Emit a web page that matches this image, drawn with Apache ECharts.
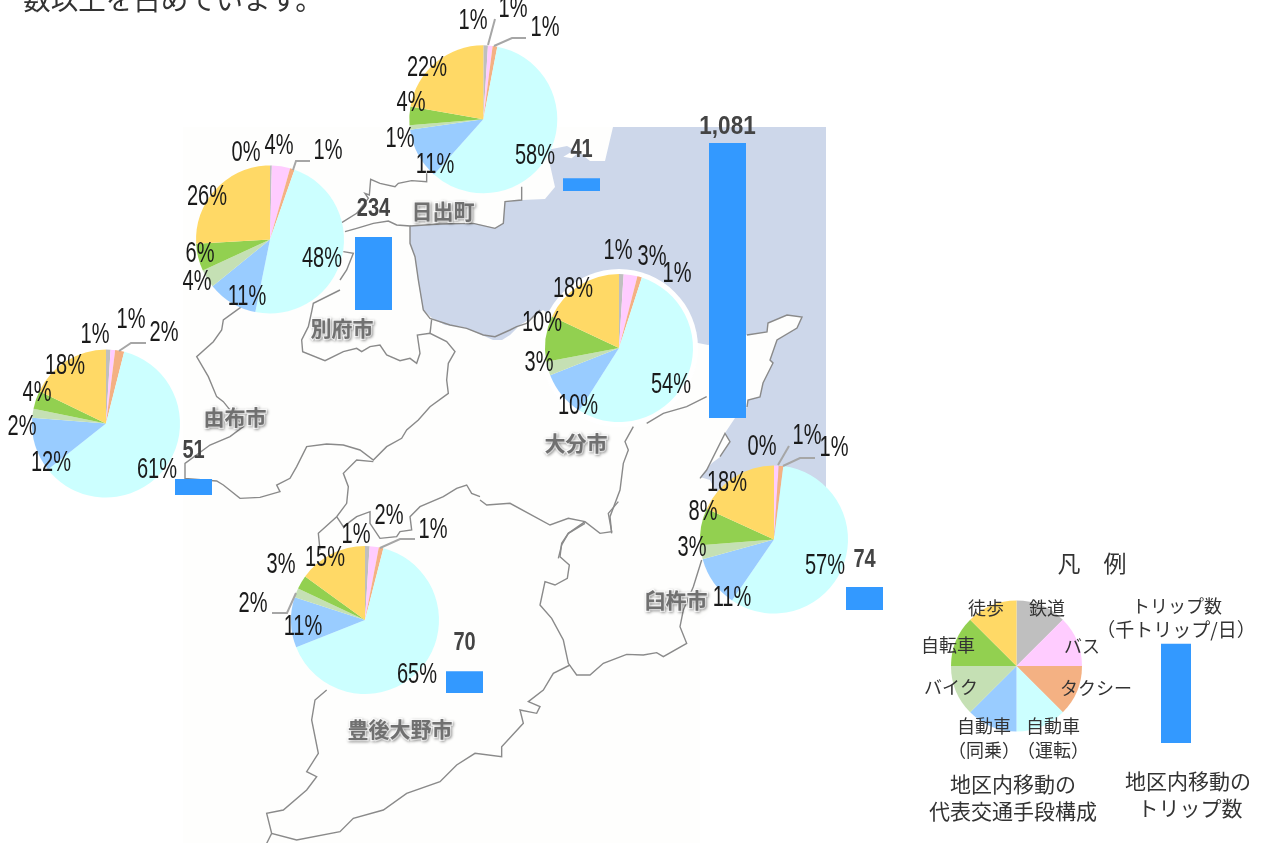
<!DOCTYPE html>
<html><head><meta charset="utf-8">
<style>html,body{margin:0;padding:0;background:#fff}#c{width:1268px;height:843px}</style>
<script src="https://cdn.jsdelivr.net/npm/echarts@6/dist/echarts.min.js"></script>
</head><body><div id="c"></div>
<script>
// ---------- data ----------
const modes = ['鉄道','バス','タクシー','自動車\n（運転）','自動車\n（同乗）','バイク','自転車','徒歩'];
const legendShare = [1,1,1,1,1,1,1,1];
const hiji    = [1,1,1,58,11,1,4,22];
const beppu   = [0.4,4,1,48,11,4,6,26];
const yufu    = [1,1,2,61,12,2,4,18];
const oita    = [1,3,1,54,10,3,10,18];
const usuki   = [0,1,1,57,11,3,8,18];
const bungo   = [1,2,1,65,11,2,3,15];
const tripCities = ['別府市','日出町','大分市','由布市','豊後大野市','臼杵市'];
const tripValues = [234,41,1081,51,70,74];
const legendTrip = [318];

// ---------- styling / layout ----------
const colors = ['#bfbfbf','#ffccff','#f4b183','#ccffff','#99ccff','#c5e0b4','#92d050','#ffd966'];
const NUM = '"Liberation Sans",sans-serif';
const CJK = '"Noto Sans CJK JP",sans-serif';
const pies = [
 {d:hiji, c:[483.3,119.3], pos:[[473,21],[513,9],[545,28],[535,156],[435,165],[400,139],[411,103],[427,68]],
  lines:[[[488,45],[495,19]],[[494,46],[512,38],[526,38]]]},
 {d:beppu,c:[270,239.5], pos:[[246,153],[279,146],[328,151],[322,259],[247,297],[197,282],[200,254],[207,197]],
  lines:[[[293,170],[296,161],[310,161]]]},
 {d:yufu, c:[106,423.5], pos:[[95,335],[131,320],[164,333],[157,470],[51,463],[22,427],[37,393],[65,366]],
  lines:[[[119,351],[131,343],[146,343]]]},
 {d:oita, c:[619,348], pos:[[618,251],[652,257],[677,274],[671,385],[578,406],[539,363],[542,323],[573,289]], lines:[]},
 {d:usuki,c:[774,539.5], pos:[[762,447],[807,436],[834,448],[825,566],[732,598],[692,548],[703,512],[727,483]],
  lines:[[[778,465],[789,446]],[[783,466],[800,458],[815,458]]]},
 {d:bungo,c:[365,620], pos:[[356,535],[389,516],[433,530],[417,675],[303,627],[253,604],[281,565],[325,558]],
  lines:[[[380,548],[400,539],[415,539]],[[296,593],[287,613],[272,613]]]}
];
const legendPos = [[1047,608],[1082,646],[1096,688],[1053,738],[984,738],[951,687],[948,645],[986,608]];
const barLayout = [
 {x:355,base:310,k:.312,ty:209.5},{x:563,base:191,k:.312,ty:150},{x:709,base:418,k:.2544,ty:127},
 {x:175,base:495,k:.312,ty:451},{x:446,base:693,k:.312,ty:643},{x:846,base:610,k:.312,ty:560}
];

// ---------- series ----------
const series = [], grid = [], xAxis = [], yAxis = [];
pies.forEach(p => {
  series.push({
    type:'pie', center:p.c, radius:[0,74], startAngle:90, clockwise:true, z:3, animation:false,
    avoidLabelOverlap:false, silent:true,
    label:{show:false}, labelLine:{show:false},
    data:p.d.map((v,i)=>({value:v,name:modes[i],itemStyle:{color:colors[i]}}))
  });
});
series.push({
  type:'pie', center:[1016.5,666], radius:[0,65.5], startAngle:90, z:3, animation:false, silent:true,
  avoidLabelOverlap:false,
  label:{show:true,formatter:'{b}',fontFamily:CJK,fontSize:18,color:'#333',lineHeight:24},
  labelLine:{show:false},
  labelLayout:o=>{const q=legendPos[o.dataIndex];return {x:q[0],y:q[1],align:'center',verticalAlign:'middle'};},
  data:legendShare.map((v,i)=>({value:v,name:modes[i],itemStyle:{color:colors[i]}}))
});
function addBar(name,val,x,w,base,k){
  const H=Math.ceil(val*k), i=grid.length;
  grid.push({left:x,width:w,top:base-H,height:H,containLabel:false});
  xAxis.push({type:'category',gridIndex:i,show:false,data:[name]});
  yAxis.push({type:'value',gridIndex:i,show:false,min:0,max:H/k});
  series.push({type:'bar',xAxisIndex:i,yAxisIndex:i,barWidth:'100%',z:4,animation:false,silent:true,
    itemStyle:{color:'#3399ff'},label:{show:false},data:[val]});
}
tripValues.forEach((v,i)=>{const b=barLayout[i];addBar(tripCities[i],v,b.x,37,b.base,b.k);});
addBar('凡例',legendTrip[0],1161,30,743,.312);

// ---------- base map and texts ----------
const z=(ox,oy,a)=>{const r=[];for(let i=0;i<a.length;i+=2)r.push([ox+a[i]/3,oy+a[i+1]/3]);return r;};
const LAND='#fefefd', SEA='#cdd7ea', EDGE='#8a8a8a';
const polygon=(pts,fill,zz)=>({type:'polygon',silent:true,z:zz,shape:{points:pts},style:{fill:fill,stroke:null}});
const line=(pts)=>({type:'polyline',silent:true,z:1,shape:{points:pts},style:{fill:null,stroke:EDGE,lineWidth:1.4}});
const leader=(pts)=>({type:'polyline',silent:true,z:10,shape:{points:pts},style:{fill:null,stroke:'#a6a6a6',lineWidth:2}});
const seaPts=[[613,127],[826,127],[826,490],[780,540],[715,490],[710,480],[700,477],[712,463],[720,457],[730,442],[725,433],[735,418],[747,407],[748,400],[760,397],[763,383],[773,363],[770,360],[777,340],[797,328],[802,317],[787,315],[768,323],[767,332],[747,335],[708,345],[698,343],[600,350],[543,310],[533,317],[520,325],[510,335],[502,340],[493,340],[475,332],[463,327],[445,325],[432,318],[423,310],[418,280],[415,257],[410,243],[410,226],[440,224],[473,223],[495,228],[503,223],[505,202],[522,200],[545,199],[555,187],[550,165],[547,150],[567,146],[580,153],[590,161],[605,161]];
const borders=[
 z(340,160,[260,40,260,65,215,62,175,70,165,80,120,70,92,58,88,105,75,100,85,115,50,160,10,185,0,190]),
 z(340,160,[15,215,50,205,100,190,145,183,170,195,210,198,210,250,225,290,235,360,250,450,270,475,330,495,380,505,430,525,465,530,510,510,530,500,560,490,600,450]),
 z(340,160,[210,198,300,192,400,190,465,205,490,190,495,125,545,120,545,80]),
 z(0,280,[1030,-85,1060,-80,1040,-30,1020,0]),
 z(180,290,[480,0,400,40,395,65,385,110,365,150,368,185,435,212,490,185,530,175,545,185,570,170,600,165,620,195,660,212,690,205,710,220,720,190,712,135,750,130,800,155,825,185,805,220,800,270,805,310,750,350,715,390,680,420,665,445,620,470,580,510,540,480,490,465,440,462,380,470,350,530,330,565,290,585,300,605,240,622,180,625,130,585,110,573,15,565,15,520,90,465,150,440,190,410,130,335,110,320,85,260,50,200,100,155,125,120,130,90,185,50]),
 z(180,290,[750,130,755,88]),
 z(180,290,[580,515,530,510,490,550,505,590,500,640,470,680,415,730,420,780]),
 z(180,290,[470,680,490,710,530,680,570,665,570,700,600,745,650,740,660,725,695,720,690,680,720,650,790,620,830,595,860,585,875,610,900,620]),
 z(420,300,[680,370,730,340,800,320,860,290]),
 z(420,300,[575,700,570,650,600,570,610,490,625,450,615,425,640,380]),
 z(420,300,[495,670,445,700,425,735,415,775]),
 z(480,500,[0,0,20,15,90,10,210,75,265,55,315,65,360,100,395,95,385,40,415,5]),
 z(480,500,[315,65,265,100,245,130,240,170,268,195,262,235,225,255,195,245,180,315,215,355,250,420,265,490,290,525,330,525,370,490,440,463,490,465,530,458,550,470,620,430,600,380,610,330,640,260,665,180]),
 z(200,480,[1110,555,1060,580,1030,630,985,665,1020,680,1010,700,960,690,970,730,905,800,905,830,825,820,770,855,720,905,620,940,550,990,460,1015,420,1055,290,1080,215,1060,200,1000,250,990,320,930,350,890,320,875,355,820,335,720,345,660,380,630]),
 z(200,480,[215,1060,200,1090]),
 z(420,260,[840,655,860,630,915,520,930,545,900,590]),
 [[747,335],[767,332],[768,323],[787,315],[802,317],[797,328],[777,340],[770,360],[773,363],[763,383],[760,397],[748,400],[747,407]]
];
const nameLabel=(t,x,y)=>({type:'text',silent:true,z:20,x:x,y:y,
  style:{text:t,fontFamily:CJK,fontWeight:'bold',fontSize:21,fill:'#707070',stroke:'#ffffff',lineWidth:2.5,strokeFirst:true,
    align:'center',verticalAlign:'middle',textShadowBlur:3,textShadowColor:'rgba(0,0,0,.3)',textShadowOffsetX:1,textShadowOffsetY:1.5}});
const legendText=(t,x,y,s)=>({type:'text',silent:true,z:20,x:x,y:y,
  style:{text:t,fontFamily:CJK,fontSize:s,fill:'#333',align:'center',verticalAlign:'middle'}});
const narrow=(t,x,y,s,sx,weight,fill,zz)=>({type:'text',silent:true,z:zz,x:x,y:y,scaleX:sx,
  style:{text:t,fontFamily:NUM,fontWeight:weight,fontSize:s,fill:fill,align:'center',verticalAlign:'middle'}});
const pctLabels=pies.flatMap(p=>p.d.map((v,i)=>narrow(Math.round(v)+'%',p.pos[i][0],p.pos[i][1],29,.69,'normal','#1a1a1a',15)));
const tripLabels=tripValues.map((v,i)=>{const b=barLayout[i];
  return narrow(v.toLocaleString('en-US'),b.x+18.5,b.ty,25,v>=1000?.9:.8,'bold','#444',15);});
const elements=[
 polygon([[183,127],[826,127],[826,500],[700,620],[700,843],[183,843]],LAND,0),
 polygon(seaPts,SEA,0),
 polygon(z(400,0,[490,470,510,458,530,462,515,475]),'#ffffff',1),
 {type:'circle',silent:true,z:1,shape:{cx:619,cy:348,r:79},style:{fill:'#fff'}},
 ...borders.map(line),
 ...pies.flatMap(p=>p.lines.map(leader)),
 ...pctLabels,...tripLabels,
 nameLabel('別府市',342,328),nameLabel('日出町',443,211),nameLabel('由布市',235,417),
 nameLabel('大分市',576,443),nameLabel('豊後大野市',400,729),nameLabel('臼杵市',676,600),
 legendText('数以上を占めています。',173,0,27.5),
 legendText('凡　例',1092,563,23),
 legendText('トリップ数',1177,606,18),legendText('（千トリップ/日）',1176,630,19),
 legendText('地区内移動の',1013,784,21),legendText('代表交通手段構成',1013,811,21),
 legendText('地区内移動の',1188,781,21),legendText('トリップ数',1190,808,21)
];

const chart=echarts.init(document.getElementById('c'),null,{renderer:'canvas'});
chart.setOption({animation:false,backgroundColor:'#fff',grid,xAxis,yAxis,series,graphic:{elements}});
</script></body></html>
